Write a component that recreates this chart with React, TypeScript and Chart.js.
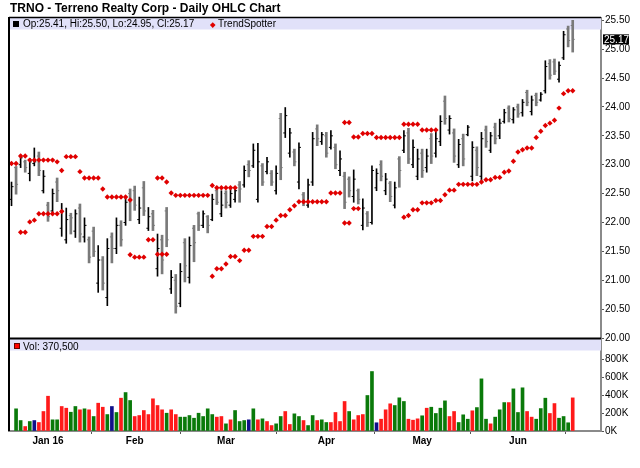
import React, { useEffect, useRef } from "react";
import { Chart, registerables } from "chart.js";

Chart.register(...registerables);

const TITLE = "TRNO - Terreno Realty Corp - Daily OHLC Chart";

// Trading days (day of month), Dec 21 2015 – Jun 17 2016
const daysDec2015 = [21, 22, 23, 24, 28, 29, 30, 31];
const daysJan2016 = [4, 5, 6, 7, 8, 11, 12, 13, 14, 15, 19, 20, 21, 22, 25, 26, 27, 28, 29];
const daysFeb2016 = [1, 2, 3, 4, 5, 8, 9, 10, 11, 12, 16, 17, 18, 19, 22, 23, 24, 25, 26, 29];
const daysMar2016 = [1, 2, 3, 4, 7, 8, 9, 10, 11, 14, 15, 16, 17, 18, 21, 22, 23, 24, 28, 29, 30, 31];
const daysApr2016 = [1, 4, 5, 6, 7, 8, 11, 12, 13, 14, 15, 18, 19, 20, 21, 22, 25, 26, 27, 28, 29];
const daysMay2016 = [2, 3, 4, 5, 6, 9, 10, 11, 12, 13, 16, 17, 18, 19, 20, 23, 24, 25, 26, 27, 31];
const daysJun2016 = [1, 2, 3, 6, 7, 8, 9, 10, 13, 14, 15, 16, 17];
const monthTickLabels = ["Jan 16", "Feb", "Mar", "Apr", "May", "Jun"];

const openPrices = [
  22.40, 22.95, 23.00, 23.05, 22.85, 23.02, 23.15, 22.55, 22.30, 22.20,
  22.70, 21.90, 21.70, 22.12, 21.85, 22.25, 21.75, 21.70, 21.85, 20.95,
  21.35, 20.70, 21.75, 21.55, 21.95, 22.00, 22.50, 22.55, 22.05, 22.60,
  21.90, 22.15, 21.20, 21.70, 22.20, 20.85, 21.00, 20.60, 21.65, 21.05,
  21.90, 22.15, 21.95, 22.10, 22.05, 22.55, 22.15, 22.50, 22.30, 22.40,
  22.65, 22.65, 23.00, 22.98, 22.40, 22.98, 22.88, 22.85, 22.55, 23.80,
  23.55, 23.20, 23.22, 22.70, 22.48, 22.30, 22.70, 23.62, 23.40, 23.50,
  23.30, 23.30, 22.90, 22.80, 22.75, 22.45, 22.55, 21.95, 22.15, 22.00,
  22.60, 23.00, 22.55, 22.68, 22.30, 23.10, 23.25, 23.55, 23.00, 22.80,
  23.20, 22.95, 23.45, 23.20, 23.40, 24.10, 23.60, 23.55, 23.00, 23.45,
  23.52, 22.80, 23.25, 22.80, 23.60, 23.25, 23.65, 23.50, 23.75, 23.98,
  23.78, 24.00, 23.90, 24.25, 23.92, 24.20, 24.12, 24.28, 24.75, 24.78,
  24.48, 24.85, 25.35, 25.41,
];
const highPrices = [
  22.70, 22.97, 23.17, 23.08, 23.11, 23.29, 23.22, 22.90, 22.35, 22.58,
  22.77, 22.33, 22.25, 22.16, 22.22, 22.32, 22.08, 21.75, 21.92, 21.60,
  21.41, 21.72, 21.82, 22.08, 22.03, 22.44, 22.58, 22.63, 22.44, 22.71,
  22.26, 22.21, 21.80, 21.78, 22.26, 21.17, 21.10, 21.29, 21.72, 21.75,
  21.95, 22.18, 22.20, 22.12, 22.49, 22.60, 22.55, 22.55, 22.61, 22.61,
  22.71, 22.98, 23.07, 23.36, 23.37, 23.02, 23.13, 22.90, 22.98, 23.89,
  23.99, 23.63, 23.27, 23.38, 22.52, 22.75, 23.56, 23.69, 23.56, 23.56,
  23.59, 23.36, 23.24, 22.87, 22.79, 22.91, 22.58, 22.41, 22.19, 22.98,
  22.93, 23.07, 22.85, 22.71, 22.70, 23.14, 23.59, 23.63, 23.43, 23.27,
  23.27, 23.27, 23.54, 23.56, 23.85, 24.19, 23.85, 23.62, 23.44, 23.53,
  23.68, 23.40, 23.31, 23.56, 23.67, 23.56, 23.72, 23.79, 23.96, 24.02,
  23.99, 24.05, 24.13, 24.29, 24.19, 24.24, 24.25, 24.80, 24.82, 24.83,
  24.78, 25.31, 25.40, 25.50,
];
const lowPrices = [
  22.29, 22.49, 22.95, 22.87, 22.72, 22.98, 22.81, 22.51, 22.02, 22.17,
  22.36, 21.76, 21.64, 21.80, 21.74, 21.66, 21.66, 21.30, 21.41, 20.79,
  20.83, 20.56, 21.30, 21.46, 21.59, 21.95, 22.03, 22.21, 21.98, 22.12,
  21.86, 21.86, 21.07, 21.11, 21.58, 20.77, 20.43, 20.54, 20.97, 20.95,
  21.32, 21.86, 21.91, 21.82, 22.03, 22.31, 22.10, 22.25, 22.26, 22.35,
  22.35, 22.61, 22.79, 22.95, 22.35, 22.64, 22.84, 22.64, 22.49, 22.74,
  23.47, 23.13, 22.98, 22.58, 22.29, 22.26, 22.64, 23.33, 23.35, 23.13,
  23.27, 22.93, 22.81, 22.24, 22.44, 22.35, 22.32, 21.87, 21.93, 21.97,
  22.55, 22.72, 22.48, 22.36, 22.25, 22.61, 23.21, 23.02, 22.95, 22.74,
  22.78, 22.87, 23.02, 23.13, 23.33, 23.70, 23.53, 23.04, 22.95, 22.98,
  23.50, 22.72, 22.81, 22.72, 23.30, 23.21, 23.36, 23.45, 23.72, 23.74,
  23.72, 23.82, 23.84, 24.02, 23.86, 24.02, 24.10, 24.24, 24.48, 24.56,
  24.43, 24.82, 25.04, 24.95,
];
const closePrices = [
  22.62, 22.66, 23.12, 22.95, 23.05, 23.05, 22.90, 22.80, 22.10, 22.50,
  22.55, 22.20, 22.05, 22.08, 22.15, 21.80, 21.95, 21.40, 21.50, 21.35,
  20.95, 21.55, 21.55, 21.95, 21.70, 22.35, 22.40, 22.30, 22.25, 22.20,
  22.10, 21.95, 21.55, 21.35, 21.70, 21.05, 20.55, 21.15, 21.25, 21.60,
  21.65, 21.95, 22.15, 21.95, 22.40, 22.35, 22.30, 22.35, 22.50, 22.55,
  22.58, 22.90, 22.90, 23.25, 23.05, 22.70, 23.05, 22.70, 22.85, 22.95,
  23.85, 23.55, 23.05, 23.30, 22.35, 22.65, 23.45, 23.45, 23.52, 23.20,
  23.50, 23.00, 23.10, 22.35, 22.55, 22.75, 22.40, 22.25, 22.00, 22.90,
  22.85, 22.80, 22.75, 22.45, 22.60, 22.90, 23.50, 23.10, 23.30, 23.10,
  22.90, 23.15, 23.15, 23.45, 23.75, 23.80, 23.80, 23.15, 23.35, 23.10,
  23.65, 23.30, 22.95, 23.45, 23.40, 23.50, 23.45, 23.72, 23.90, 23.80,
  23.95, 23.88, 24.08, 24.08, 24.12, 24.08, 24.22, 24.70, 24.55, 24.62,
  24.72, 25.25, 25.15, 25.17,
];

// TrendSpotter dots (upper / lower), null = no dot
const trendSpotterUpper = [
  23.02, 23.02, 23.15, 23.15, 23.08, 23.08, 23.08, 23.08, 23.08, 23.08,
  23.05, 22.90, 23.14, 23.14, 23.14, 22.88, 22.77, 22.77, 22.77, 22.77,
  22.58, 22.44, 22.44, 22.44, 22.44, 22.44, 22.39, null, null, null,
  null, null, 22.77, 22.77, 22.70, 22.51, 22.47, 22.47, 22.47, 22.47,
  22.47, 22.47, 22.47, 22.47, 22.64, 22.60, 22.60, 22.60, 22.60, 22.60,
  null, null, null, null, null, null, null, null, null, null,
  null, null, null, null, null, null, null, null, null, null,
  null, null, null, 23.73, 23.73, 23.48, 23.48, 23.54, 23.54, 23.54,
  23.47, 23.47, 23.47, 23.47, 23.47, 23.47, 23.70, 23.70, 23.70, 23.70,
  23.60, 23.60, 23.60, 23.60, null, null, null, null, null, null,
  null, null, null, null, null, null, null, null, null, null,
  null, null, null, null, null, null, null, null, null, null,
  null, null, null, null,
];
const trendSpotterLower = [
  null, null, 21.83, 21.83, 22.01, 22.04, 22.15, 22.15, 22.15, 22.15,
  22.15, 22.19, null, null, null, null, null, null, null, null,
  null, null, null, null, null, null, 21.44, 21.40, 21.40, 21.40,
  21.70, 21.70, 21.45, 21.45, 21.45, null, null, null, null, null,
  null, null, null, null, 21.07, 21.20, 21.20, 21.28, 21.41, 21.41,
  21.34, 21.52, 21.52, 21.76, 21.76, 21.76, 21.93, 21.93, 22.04, 22.12,
  22.12, 22.22, 22.29, 22.36, 22.36, 22.36, 22.36, 22.36, 22.36, 22.36,
  22.51, 22.51, 22.51, 21.99, 21.99, 22.24, 22.24, null, null, null,
  null, null, null, null, null, null, 22.09, 22.12, 22.22, 22.22,
  22.34, 22.34, 22.34, 22.38, 22.38, 22.48, 22.56, 22.56, 22.66, 22.66,
  22.66, 22.66, 22.66, 22.70, 22.74, 22.74, 22.78, 22.78, 22.87, 22.89,
  23.06, 23.22, 23.26, 23.29, 23.29, 23.47, 23.58, 23.68, 23.72, 23.77,
  23.98, 24.23, 24.28, 24.28,
];

// Volume in thousands of shares, and direction vs previous close (1 up, -1 down, 0 unchanged)
const volumeThousands = [
  null, 248, 117, 50, 106, 117, 95, 218, 389, 125,
  125, 274, 255, 210, 274, 237, 248, 237, 162, 311,
  266, 184, 274, 207, 367, 430, 341, 162, 173, 229,
  184, 360, 285, 237, 199, 237, 184, 155, 155, 173,
  143, 199, 162, 248, 184, 155, 162, 80, 125, 229,
  106, 117, 125, 248, 125, 136, 106, 61, 80, 162,
  218, 73, 192, 162, 117, 61, 173, 117, 125, 95,
  95, 207, 106, 330, 218, 125, 173, 184, 397, 665,
  92, 132, 237, 304, 285, 371, 330, 132, 121, 136,
  170, 255, 266, 196, 255, 337, 162, 218, 95, 181,
  132, 226, 262, 583, 132, 80, 155, 237, 318, 318,
  471, 207, 483, 218, 155, 132, 251, 367, 196, 307,
  143, 162, 92, 370.5,
];
const volumeDirection = [
  1, 1, 1, -1, 1, 0, -1, -1, -1, 1,
  1, -1, -1, 1, 1, -1, 1, -1, 1, -1,
  -1, 1, 0, 1, -1, 1, 1, -1, -1, -1,
  -1, -1, -1, -1, 1, -1, -1, 1, 1, 1,
  1, 1, 1, 1, 1, -1, -1, 1, -1, 1,
  1, 1, 0, 1, -1, 1, -1, -1, 1, 1,
  -1, -1, 1, 1, -1, 1, 1, -1, 1, 1,
  -1, -1, -1, -1, 1, -1, -1, -1, 1, 1,
  0, -1, -1, -1, 1, 1, 1, -1, -1, -1,
  1, -1, 1, 1, 1, 1, -1, -1, 1, 1,
  1, -1, 1, 1, 1, -1, 1, 1, 1, -1,
  1, 1, 1, -1, -1, 1, 1, 1, -1, -1,
  1, 1, 1, -1,
];

const priceTicks = [20, 20.5, 21, 21.5, 22, 22.5, 23, 23.5, 24, 24.5, 25, 25.5];
const volumeTicks = [0, 200000, 400000, 600000, 800000];

const monthsAfterDec = [daysJan2016, daysFeb2016, daysMar2016, daysApr2016, daysMay2016, daysJun2016];
const monthTickIndex: number[] = [];
{
  let acc = daysDec2015.length;
  for (const m of monthsAfterDec) {
    monthTickIndex.push(acc);
    acc += m.length;
  }
}

const FONT = '"Liberation Sans", Arial, sans-serif';
const UP_COLOR = "#000000";
const DOWN_COLOR = "#7a7a7a";
const BAND = "#e1e1f9";

export default function App() {
  const ref = useRef<HTMLCanvasElement | null>(null);

  useEffect(() => {
    const n = highPrices.length;
    const idx = highPrices.map((_, i) => i);
    const isUp = (i: number) => closePrices[i] >= openPrices[i];
    const upIdx = idx.filter(isUp);
    const downIdx = idx.filter((i) => !isUp(i));
    const barColor = (i: number) => (isUp(i) ? UP_COLOR : DOWN_COLOR);
    const last = n - 1;

    const panels = {
      id: "panels",
      beforeDatasetsDraw(chart: any) {
        const { ctx, chartArea } = chart;
        const y = chart.scales.y;
        const yv = chart.scales.yv;
        ctx.save();
        ctx.fillStyle = BAND;
        ctx.fillRect(chartArea.left, y.top, chartArea.right - chartArea.left, 11.5);
        ctx.fillRect(chartArea.left, yv.top + 1, chartArea.right - chartArea.left, 11.5);
        ctx.restore();
      },
      afterDatasetsDraw(chart: any) {
        const { ctx, chartArea } = chart;
        const yv = chart.scales.yv;
        ctx.save();
        ctx.strokeStyle = "#000";
        ctx.lineWidth = 1.5;
        ctx.beginPath();
        ctx.moveTo(chartArea.left, chartArea.top - 0.5);
        ctx.lineTo(chartArea.right, chartArea.top - 0.5);
        ctx.stroke();
        ctx.lineWidth = 2;
        ctx.beginPath();
        ctx.moveTo(chartArea.left, chartArea.top - 1);
        ctx.lineTo(chartArea.left, chartArea.bottom);
        ctx.stroke();
        ctx.beginPath();
        ctx.moveTo(chartArea.left, yv.top + 0.5);
        ctx.lineTo(chartArea.right, yv.top + 0.5);
        ctx.stroke();
        ctx.restore();
      },
      afterDraw(chart: any) {
        const { ctx, chartArea } = chart;
        const y = chart.scales.y;
        const py = y.getPixelForValue(closePrices[last]);
        ctx.save();
        ctx.fillStyle = "#000";
        ctx.fillRect(chartArea.right + 2, py - 5, 26, 10);
        ctx.fillStyle = "#fff";
        ctx.font = `10px ${FONT}`;
        ctx.textBaseline = "middle";
        ctx.textAlign = "left";
        ctx.fillText(closePrices[last].toFixed(2), chartArea.right + 3, py + 0.5);
        ctx.restore();
      },
    };

    const tickFont = { family: FONT, size: 10 };

    const chart = new Chart(ref.current as HTMLCanvasElement, {
      type: "bar",
      data: {
        datasets: [
          {
            type: "scatter",
            label: "TrendSpotter upper",
            data: idx
              .filter((i) => trendSpotterUpper[i] != null)
              .map((i) => ({ x: i, y: trendSpotterUpper[i] as number })),
            yAxisID: "y",
            pointStyle: "rectRot",
            pointRadius: 2.7,
            pointBackgroundColor: "#e00000",
            pointBorderColor: "#e00000",
            pointBorderWidth: 0,
          } as any,
          {
            type: "scatter",
            label: "TrendSpotter lower",
            data: idx
              .filter((i) => trendSpotterLower[i] != null)
              .map((i) => ({ x: i, y: trendSpotterLower[i] as number })),
            yAxisID: "y",
            pointStyle: "rectRot",
            pointRadius: 2.7,
            pointBackgroundColor: "#e00000",
            pointBorderColor: "#e00000",
            pointBorderWidth: 0,
          } as any,
          {
            type: "scatter",
            label: "Open",
            data: idx.map((i) => ({ x: i - 0.22, y: openPrices[i] })),
            yAxisID: "y",
            pointStyle: "line",
            pointRadius: 1,
            pointBorderWidth: 1,
            pointBorderColor: idx.map(barColor),
          } as any,
          {
            type: "scatter",
            label: "Close",
            data: idx.map((i) => ({ x: i + 0.22, y: closePrices[i] })),
            yAxisID: "y",
            pointStyle: "line",
            pointRadius: 1,
            pointBorderWidth: 1,
            pointBorderColor: idx.map(barColor),
          } as any,
          {
            type: "bar",
            label: "Up bars",
            data: upIdx.map((i) => ({ x: i, y: [lowPrices[i], highPrices[i]] })),
            yAxisID: "y",
            backgroundColor: UP_COLOR,
            barThickness: 1,
            grouped: false,
          } as any,
          {
            type: "bar",
            label: "Down bars",
            data: downIdx.map((i) => ({ x: i, y: [lowPrices[i], highPrices[i]] })),
            yAxisID: "y",
            backgroundColor: DOWN_COLOR,
            barThickness: 2,
            grouped: false,
          } as any,
          {
            type: "bar",
            label: "Volume",
            data: idx.map((i) => ({
              x: i,
              y: volumeThousands[i] == null ? null : (volumeThousands[i] as number) * 1000,
            })),
            yAxisID: "yv",
            backgroundColor: idx.map((i) =>
              volumeDirection[i] > 0 ? "#0a7a0a" : volumeDirection[i] < 0 ? "#ff1a1a" : "#10108a"
            ),
            barThickness: 3,
            grouped: false,
          } as any,
        ],
      },
      options: {
        responsive: false,
        animation: false,
        devicePixelRatio: 1,
        layout: { padding: { left: 9, top: 18, right: 0, bottom: 0 } },
        plugins: {
          legend: { display: false },
          tooltip: { enabled: false },
          title: { display: false },
        },
        scales: {
          x: {
            type: "linear",
            min: -0.55,
            max: 129.2,
            offset: false,
            grid: { display: true, drawOnChartArea: false, drawTicks: true, tickLength: 3, color: "#555" },
            border: { display: true, color: "#8a8a8a", width: 2 },
            ticks: {
              autoSkip: false,
              maxRotation: 0,
              padding: 1,
              color: "#000",
              font: { family: FONT, size: 10, weight: "bold" },
              callback: (_v: any, index: number) => monthTickLabels[index],
            },
            afterBuildTicks: (s: any) => {
              s.ticks = monthTickIndex.map((v) => ({ value: v }));
            },
            afterFit: (s: any) => {
              s.height = 37;
            },
          },
          y: {
            type: "linear",
            position: "right",
            stack: "panes",
            stackWeight: 320,
            min: 20,
            max: 25.54,
            grid: { display: true, drawOnChartArea: false, drawTicks: true, tickLength: 3, color: "#555" },
            border: { display: true, color: "#8a8a8a", width: 2 },
            ticks: {
              autoSkip: false,
              padding: 1,
              color: "#000",
              font: tickFont,
              callback: (v: any) => Number(v).toFixed(2),
            },
            afterBuildTicks: (s: any) => {
              s.ticks = priceTicks.map((v) => ({ value: v }));
            },
            afterFit: (s: any) => {
              s.width = 39;
            },
          },
          yv: {
            type: "linear",
            position: "right",
            stack: "panes",
            stackWeight: 93,
            min: 0,
            max: 1040000,
            grid: { display: true, drawOnChartArea: false, drawTicks: true, tickLength: 3, color: "#555" },
            border: { display: true, color: "#8a8a8a", width: 2 },
            ticks: {
              autoSkip: false,
              padding: 1,
              color: "#000",
              font: tickFont,
              callback: (v: any) => `${Math.round(Number(v) / 1000)}K`,
            },
            afterBuildTicks: (s: any) => {
              s.ticks = volumeTicks.map((v) => ({ value: v }));
            },
            afterFit: (s: any) => {
              s.width = 39;
            },
          },
        },
      } as any,
      plugins: [panels],
    });
    return () => chart.destroy();
  }, []);

  const last = highPrices.length - 1;
  const ohlcText = `Op:${openPrices[last].toFixed(2)}, Hi:${highPrices[last].toFixed(2)}, Lo:${lowPrices[last].toFixed(2)}, Cl:${closePrices[last].toFixed(2)}`;
  const volText = `Vol: ${Math.round((volumeThousands[last] as number) * 1000).toLocaleString("en-US")}`;

  const textStyle: React.CSSProperties = {
    position: "absolute",
    fontSize: 10,
    lineHeight: "10px",
    whiteSpace: "nowrap",
    color: "#000",
  };

  return (
    <div
      style={{
        position: "absolute",
        left: 0,
        top: 0,
        width: 640,
        height: 468,
        background: "#fff",
        fontFamily: FONT,
        overflow: "hidden",
      }}
    >
      <canvas ref={ref} width={640} height={468} style={{ position: "absolute", left: 0, top: 0 }} />
      <div
        style={{
          position: "absolute",
          left: 10,
          top: 1.5,
          fontSize: 12,
          lineHeight: "12px",
          fontWeight: "bold",
          whiteSpace: "nowrap",
          color: "#000",
        }}
      >
        {TITLE}
      </div>
      <div style={{ position: "absolute", left: 13, top: 21, width: 6, height: 6, background: "#000" }} />
      <div style={{ ...textStyle, left: 23, top: 19 }}>{ohlcText}</div>
      <div
        style={{
          position: "absolute",
          left: 210.5,
          top: 22.5,
          width: 3.5,
          height: 3.5,
          background: "#e00000",
          transform: "rotate(45deg)",
        }}
      />
      <div style={{ ...textStyle, left: 218, top: 19 }}>TrendSpotter</div>
      <div
        style={{
          position: "absolute",
          left: 14,
          top: 343,
          width: 6,
          height: 6,
          background: "#ff0000",
          border: "1px solid #600",
          boxSizing: "border-box",
        }}
      />
      <div style={{ ...textStyle, left: 23, top: 341.5 }}>{volText}</div>
    </div>
  );
}
